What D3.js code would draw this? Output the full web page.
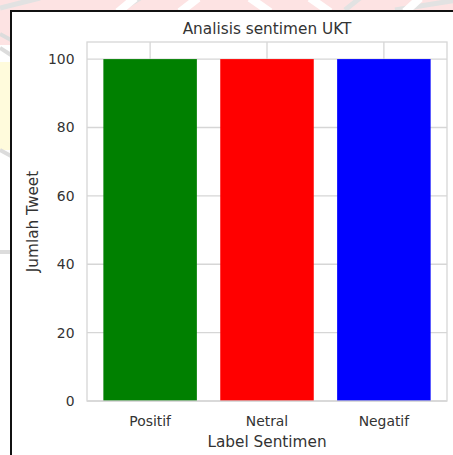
<!DOCTYPE html>
<html lang="en">
<head>
    <meta charset="UTF-8">
    <title>Analisis sentimen UKT</title>
    <script src="https://d3js.org/d3.v7.min.js"></script>
    <style>
        body { margin: 0; background: #fff; }
        text { font-family: "DejaVu Sans", sans-serif; fill: #333; }
        .tick-label { font-size: 13.9px; }
        .axis-label { font-size: 15.3px; }
        .title { font-size: 15.3px; }
    </style>
</head>
<body>

<div id="chart"></div>

<script>
// Chart data
const categories = ["Positif", "Netral", "Negatif"];
const counts = [100, 100, 100];
const barColors = ["green", "red", "blue"];
const yTicks = [0, 20, 40, 60, 80, 100];

const W = 453, H = 455;
const plot = {left: 87, right: 447, top: 42, bottom: 401};

const svg = d3.select("#chart")
              .append("svg")
              .attr("width", W)
              .attr("height", H);

// Faint watermark showing outside the framed screenshot
const wm = svg.append("g");
wm.append("rect").attr("x", 0).attr("y", 0).attr("width", W).attr("height", 11).attr("fill", "#fde3e3");
wm.append("rect").attr("x", 0).attr("y", 0).attr("width", 11).attr("height", 45).attr("fill", "#fde3e3");
wm.append("rect").attr("x", 0).attr("y", 62).attr("width", 11).attr("height", 88).attr("fill", "#fffbdc");
[[0, 8, 40, -2], [120, 10, 140, -2], [345, 10, 360, -2], [395, 10, 470, -2]].forEach(([x1, y1, x2, y2]) => {
    wm.append("line").attr("x1", x1).attr("y1", y1).attr("x2", x2).attr("y2", y2)
      .attr("stroke", "#e2e2e2").attr("stroke-width", 5);
});
[[118, 12, 135, -2], [180, 12, 198, -2], [270, 12, 250, -2], [330, 12, 310, -2], [405, 12, 420, -2]].forEach(([x1, y1, x2, y2]) => {
    wm.append("line").attr("x1", x1).attr("y1", y1).attr("x2", x2).attr("y2", y2)
      .attr("stroke", "#ffffff").attr("stroke-width", 8);
});
[[0, 34, 11, 40], [0, 48, 11, 55], [0, 150, 11, 156], [0, 252, 11, 252]].forEach(([x1, y1, x2, y2]) => {
    wm.append("line").attr("x1", x1).attr("y1", y1).attr("x2", x2).attr("y2", y2)
      .attr("stroke", "#dcdcdc").attr("stroke-width", 4);
});

// Screenshot frame
svg.append("rect")
   .attr("x", 11).attr("y", 11)
   .attr("width", W).attr("height", H)
   .attr("fill", "#fff")
   .attr("stroke", "#111")
   .attr("stroke-width", 2);

// Scales (matplotlib style: bars width 0.8, 5% margins)
const x = d3.scaleLinear()
            .domain([-0.54, 2.54])
            .range([plot.left, plot.right]);

const y = d3.scaleLinear()
            .domain([0, 105])
            .range([plot.bottom, plot.top]);

const gridColor = "#d6d6d6";

// Grid
const grid = svg.append("g");
grid.selectAll("line.hgrid")
    .data(yTicks)
    .enter().append("line")
    .attr("x1", plot.left).attr("x2", plot.right)
    .attr("y1", d => y(d)).attr("y2", d => y(d))
    .attr("stroke", gridColor).attr("stroke-width", 1.3);
grid.selectAll("line.vgrid")
    .data(categories)
    .enter().append("line")
    .attr("x1", (d, i) => x(i)).attr("x2", (d, i) => x(i))
    .attr("y1", plot.top).attr("y2", plot.bottom)
    .attr("stroke", gridColor).attr("stroke-width", 1.3);

// Bars
svg.selectAll("rect.bar")
   .data(categories)
   .enter().append("rect")
   .attr("class", "bar")
   .attr("x", (d, i) => x(i - 0.4))
   .attr("width", x(0.4) - x(-0.4))
   .attr("y", (d, i) => y(counts[i]))
   .attr("height", (d, i) => y(0) - y(counts[i]))
   .attr("fill", (d, i) => barColors[i]);

// Plot frame
svg.append("rect")
   .attr("x", plot.left).attr("y", plot.top)
   .attr("width", plot.right - plot.left)
   .attr("height", plot.bottom - plot.top)
   .attr("fill", "none")
   .attr("stroke", gridColor)
   .attr("stroke-width", 1.3);

// Y tick labels
svg.selectAll("text.ytick")
   .data(yTicks)
   .enter().append("text")
   .attr("class", "tick-label")
   .attr("x", 74.5)
   .attr("y", d => y(d))
   .attr("dy", "0.36em")
   .attr("text-anchor", "end")
   .text(d => d);

// X tick labels
svg.selectAll("text.xtick")
   .data(categories)
   .enter().append("text")
   .attr("class", "tick-label")
   .attr("x", (d, i) => x(i))
   .attr("y", 426)
   .attr("text-anchor", "middle")
   .text(d => d);

// Axis labels and title
svg.append("text")
   .attr("class", "axis-label")
   .attr("x", (plot.left + plot.right) / 2)
   .attr("y", 447)
   .attr("text-anchor", "middle")
   .text("Label Sentimen");

svg.append("text")
   .attr("class", "axis-label")
   .attr("transform", `translate(38, ${(plot.top + plot.bottom) / 2}) rotate(-90)`)
   .attr("text-anchor", "middle")
   .text("Jumlah Tweet");

svg.append("text")
   .attr("class", "title")
   .attr("x", (plot.left + plot.right) / 2)
   .attr("y", 34)
   .attr("text-anchor", "middle")
   .text("Analisis sentimen UKT");
</script>

</body>
</html>
